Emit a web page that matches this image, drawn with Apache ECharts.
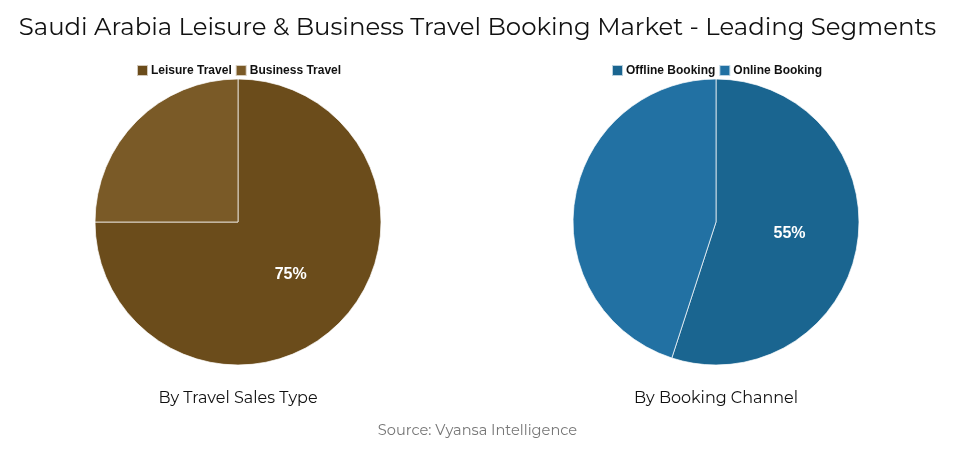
<!DOCTYPE html>
<html><head><meta charset="utf-8">
<script src="https://cdn.jsdelivr.net/npm/echarts@6/dist/echarts.min.js"></script>
<style>html,body{margin:0;padding:0;background:#fff}#c{width:955px;height:454px}</style>
</head><body><div id="c"></div>
<script>
const titleText = 'Saudi Arabia Leisure & Business Travel Booking Market - Leading Segments';
const sourceText = 'Source: Vyansa Intelligence';
const salesCategories = ['Leisure Travel', 'Business Travel'];
const salesValues = [75, 25];
const salesColors = ['#6b4c1b', '#7a5a27'];
const channelCategories = ['Offline Booking', 'Online Booking'];
const channelValues = [55, 45];
const channelColors = ['#1a6590', '#2271a3'];
const subTitles = ['By Travel Sales Type', 'By Booking Channel'];

const chart = echarts.init(document.getElementById('c'));
function mk(cats, vals, cols) {
  return cats.map((n, i) => ({
    name: n, value: vals[i], itemStyle: { color: cols[i] },
    label: { show: i === 0 }
  }));
}
const font = "'Montserrat','Noto Sans','Open Sans',sans-serif";
const legendText = { fontFamily: 'Arial, Liberation Sans, sans-serif', fontWeight: 'bold', fontSize: 12, color: '#111', padding: [0,0,0,-2] };
chart.setOption({
  animation: false,
  title: [
    { text: titleText, left: 'center', top: 11, textStyle: { fontFamily: font, fontSize: 24.4, fontWeight: 'normal', color: '#111' } },
    { text: subTitles[0], left: 233, textAlign: 'center', top: 385, textStyle: { fontFamily: font, fontSize: 16, fontWeight: 'normal', color: '#111' } },
    { text: subTitles[1], left: 711, textAlign: 'center', top: 385, textStyle: { fontFamily: font, fontSize: 16, fontWeight: 'normal', color: '#111' } },
    { text: sourceText, left: 'center', top: 418, textStyle: { fontFamily: font, fontSize: 14.6, fontWeight: 'normal', color: '#777' } }
  ],
  legend: [
    { data: salesCategories, left: 131, top: 59, itemWidth: 11, itemHeight: 11, itemGap: 3, icon: 'rect', textStyle: legendText },
    { data: channelCategories, left: 606, top: 59, itemWidth: 11, itemHeight: 11, itemGap: 3, icon: 'rect', textStyle: legendText }
  ],
  series: [
    { type: 'pie', center: [238, 222], radius: [0, 143], startAngle: 90, clockwise: true,
      itemStyle: { borderColor: 'rgba(255,255,255,0.7)', borderWidth: 1 },
      label: { position: 'inner', formatter: '{c}%', color: '#fff', fontSize: 16, fontWeight: 'bold', fontFamily: 'Arial, Liberation Sans, sans-serif' },
      labelLine: { show: false }, emphasis: { disabled: true },
      data: mk(salesCategories, salesValues, salesColors) },
    { type: 'pie', center: [716, 222], radius: [0, 143], startAngle: 90, clockwise: true,
      itemStyle: { borderColor: 'rgba(255,255,255,0.7)', borderWidth: 1 },
      label: { position: 'inner', formatter: '{c}%', color: '#fff', fontSize: 16, fontWeight: 'bold', fontFamily: 'Arial, Liberation Sans, sans-serif' },
      labelLine: { show: false }, emphasis: { disabled: true },
      data: mk(channelCategories, channelValues, channelColors) }
  ]
});
</script></body></html>
